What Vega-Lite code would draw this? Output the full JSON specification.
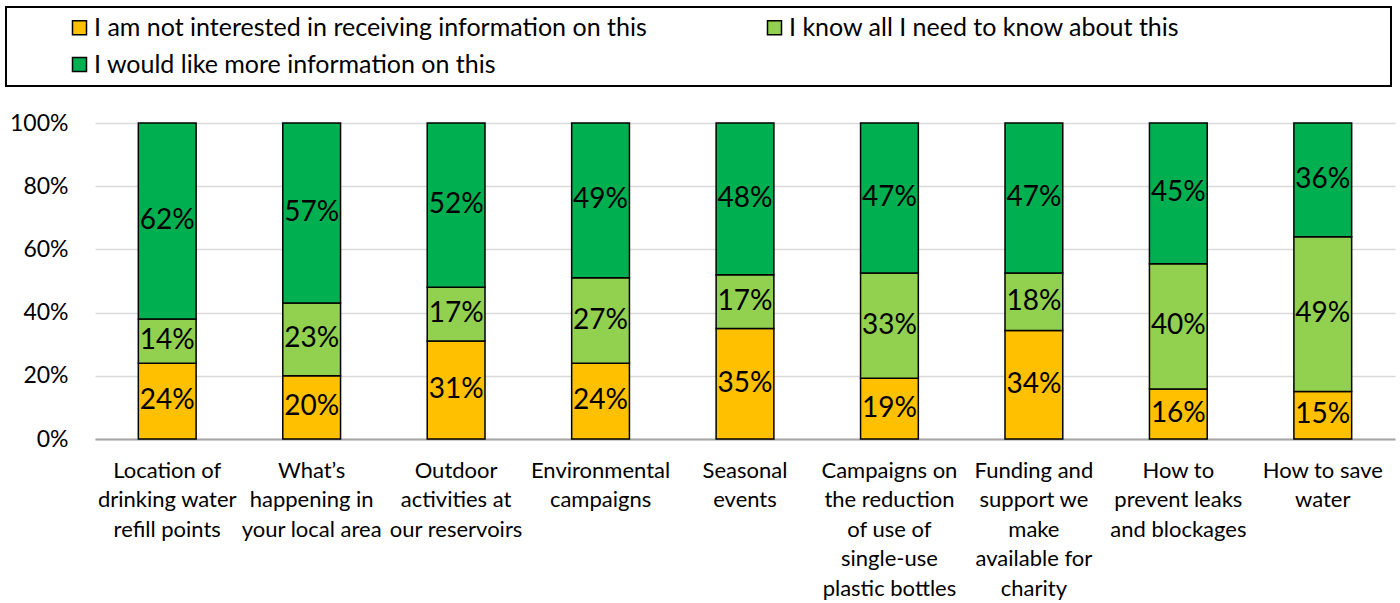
{
  "$schema": "https://vega.github.io/schema/vega-lite/v6.json",
  "autosize": "none",
  "width": 1300,
  "height": 316,
  "padding": {"left": 95, "top": 123, "right": 5, "bottom": 164},
  "background": "white",
  "config": {
    "font": "Lato",
    "view": {"stroke": null},
    "legend": {"strokeWidth": 2}
  },
  "data": {
    "values": [
      {"topic": "Location of|drinking water|refill points", "response": "I am not interested in receiving information on this", "order": 1, "pct": 24},
      {"topic": "Location of|drinking water|refill points", "response": "I know all I need to know about this", "order": 2, "pct": 14},
      {"topic": "Location of|drinking water|refill points", "response": "I would like more information on this", "order": 3, "pct": 62},
      {"topic": "What’s|happening in|your local area", "response": "I am not interested in receiving information on this", "order": 1, "pct": 20},
      {"topic": "What’s|happening in|your local area", "response": "I know all I need to know about this", "order": 2, "pct": 23},
      {"topic": "What’s|happening in|your local area", "response": "I would like more information on this", "order": 3, "pct": 57},
      {"topic": "Outdoor|activities at|our reservoirs", "response": "I am not interested in receiving information on this", "order": 1, "pct": 31},
      {"topic": "Outdoor|activities at|our reservoirs", "response": "I know all I need to know about this", "order": 2, "pct": 17},
      {"topic": "Outdoor|activities at|our reservoirs", "response": "I would like more information on this", "order": 3, "pct": 52},
      {"topic": "Environmental|campaigns", "response": "I am not interested in receiving information on this", "order": 1, "pct": 24},
      {"topic": "Environmental|campaigns", "response": "I know all I need to know about this", "order": 2, "pct": 27},
      {"topic": "Environmental|campaigns", "response": "I would like more information on this", "order": 3, "pct": 49},
      {"topic": "Seasonal|events", "response": "I am not interested in receiving information on this", "order": 1, "pct": 35},
      {"topic": "Seasonal|events", "response": "I know all I need to know about this", "order": 2, "pct": 17},
      {"topic": "Seasonal|events", "response": "I would like more information on this", "order": 3, "pct": 48},
      {"topic": "Campaigns on|the reduction|of use of|single-use|plastic bottles", "response": "I am not interested in receiving information on this", "order": 1, "pct": 19},
      {"topic": "Campaigns on|the reduction|of use of|single-use|plastic bottles", "response": "I know all I need to know about this", "order": 2, "pct": 33},
      {"topic": "Campaigns on|the reduction|of use of|single-use|plastic bottles", "response": "I would like more information on this", "order": 3, "pct": 47},
      {"topic": "Funding and|support we|make|available for|charity", "response": "I am not interested in receiving information on this", "order": 1, "pct": 34},
      {"topic": "Funding and|support we|make|available for|charity", "response": "I know all I need to know about this", "order": 2, "pct": 18},
      {"topic": "Funding and|support we|make|available for|charity", "response": "I would like more information on this", "order": 3, "pct": 47},
      {"topic": "How to|prevent leaks|and blockages", "response": "I am not interested in receiving information on this", "order": 1, "pct": 16},
      {"topic": "How to|prevent leaks|and blockages", "response": "I know all I need to know about this", "order": 2, "pct": 40},
      {"topic": "How to|prevent leaks|and blockages", "response": "I would like more information on this", "order": 3, "pct": 45},
      {"topic": "How to save|water", "response": "I am not interested in receiving information on this", "order": 1, "pct": 15},
      {"topic": "How to save|water", "response": "I know all I need to know about this", "order": 2, "pct": 49},
      {"topic": "How to save|water", "response": "I would like more information on this", "order": 3, "pct": 36}
    ]
  },
  "transform": [
    {"stack": "pct", "groupby": ["topic"], "sort": [{"field": "order"}], "offset": "normalize", "as": ["p0", "p1"]},
    {"calculate": "(datum.p0 + datum.p1) / 2", "as": "pmid"},
    {"calculate": "datum.pct + '%'", "as": "lbl"}
  ],
  "encoding": {
    "x": {
      "field": "topic",
      "type": "nominal",
      "sort": null,
      "scale": {"paddingInner": 0.6, "paddingOuter": 0.3},
      "axis": {
        "title": null,
        "labelAngle": 0,
        "labelExpr": "split(datum.label, '|')",
        "labelFontSize": 22,
        "labelLineHeight": 29.5,
        "labelBaseline": "top",
        "labelPadding": 21,
        "labelColor": "#000000",
        "labelLimit": 200,
        "ticks": false,
        "domainColor": "#a6a6a6",
        "domainWidth": 2,
        "grid": false
      }
    }
  },
  "layer": [
    {
      "mark": {"type": "bar", "stroke": "#000000", "strokeWidth": 1.5},
      "encoding": {
        "y": {
          "field": "p0",
          "type": "quantitative",
          "scale": {"domain": [0, 1]},
          "axis": {
            "title": null,
            "format": ".0%",
            "values": [0, 0.2, 0.4, 0.6, 0.8, 1],
            "labelFontSize": 23,
            "labelColor": "#000000",
            "labelPadding": 27,
            "ticks": false,
            "domain": false,
            "gridColor": "#d9d9d9",
            "gridWidth": 1.5
          }
        },
        "y2": {"field": "p1"},
        "color": {
          "field": "response",
          "type": "nominal",
          "sort": ["I am not interested in receiving information on this", "I know all I need to know about this", "I would like more information on this"],
          "scale": {
            "domain": ["I am not interested in receiving information on this", "I know all I need to know about this", "I would like more information on this"],
            "range": ["#FFC000", "#92D050", "#00B050"]
          },
          "legend": {
            "title": " ",
            "titleOrient": "right",
            "titlePadding": 203,
            "orient": "none",
            "legendX": -89,
            "legendY": -116,
            "direction": "horizontal",
            "columns": 2,
            "gridAlign": "all",
            "columnPadding": 62,
            "rowPadding": 11,
            "padding": 8,
            "strokeColor": "#000000",
            "fillColor": "#ffffff",
            "symbolType": "square",
            "symbolSize": 196,
            "symbolStrokeColor": "#000000",
            "symbolStrokeWidth": 1.5,
            "symbolOffset": 53,
            "labelFontSize": 25,
            "labelColor": "#000000",
            "labelOffset": 2,
            "labelLimit": 700
          }
        }
      }
    },
    {
      "mark": {"type": "text", "fontSize": 28, "color": "#000000", "baseline": "middle", "align": "center"},
      "encoding": {
        "y": {"field": "pmid", "type": "quantitative"},
        "text": {"field": "lbl"}
      }
    }
  ]
}
